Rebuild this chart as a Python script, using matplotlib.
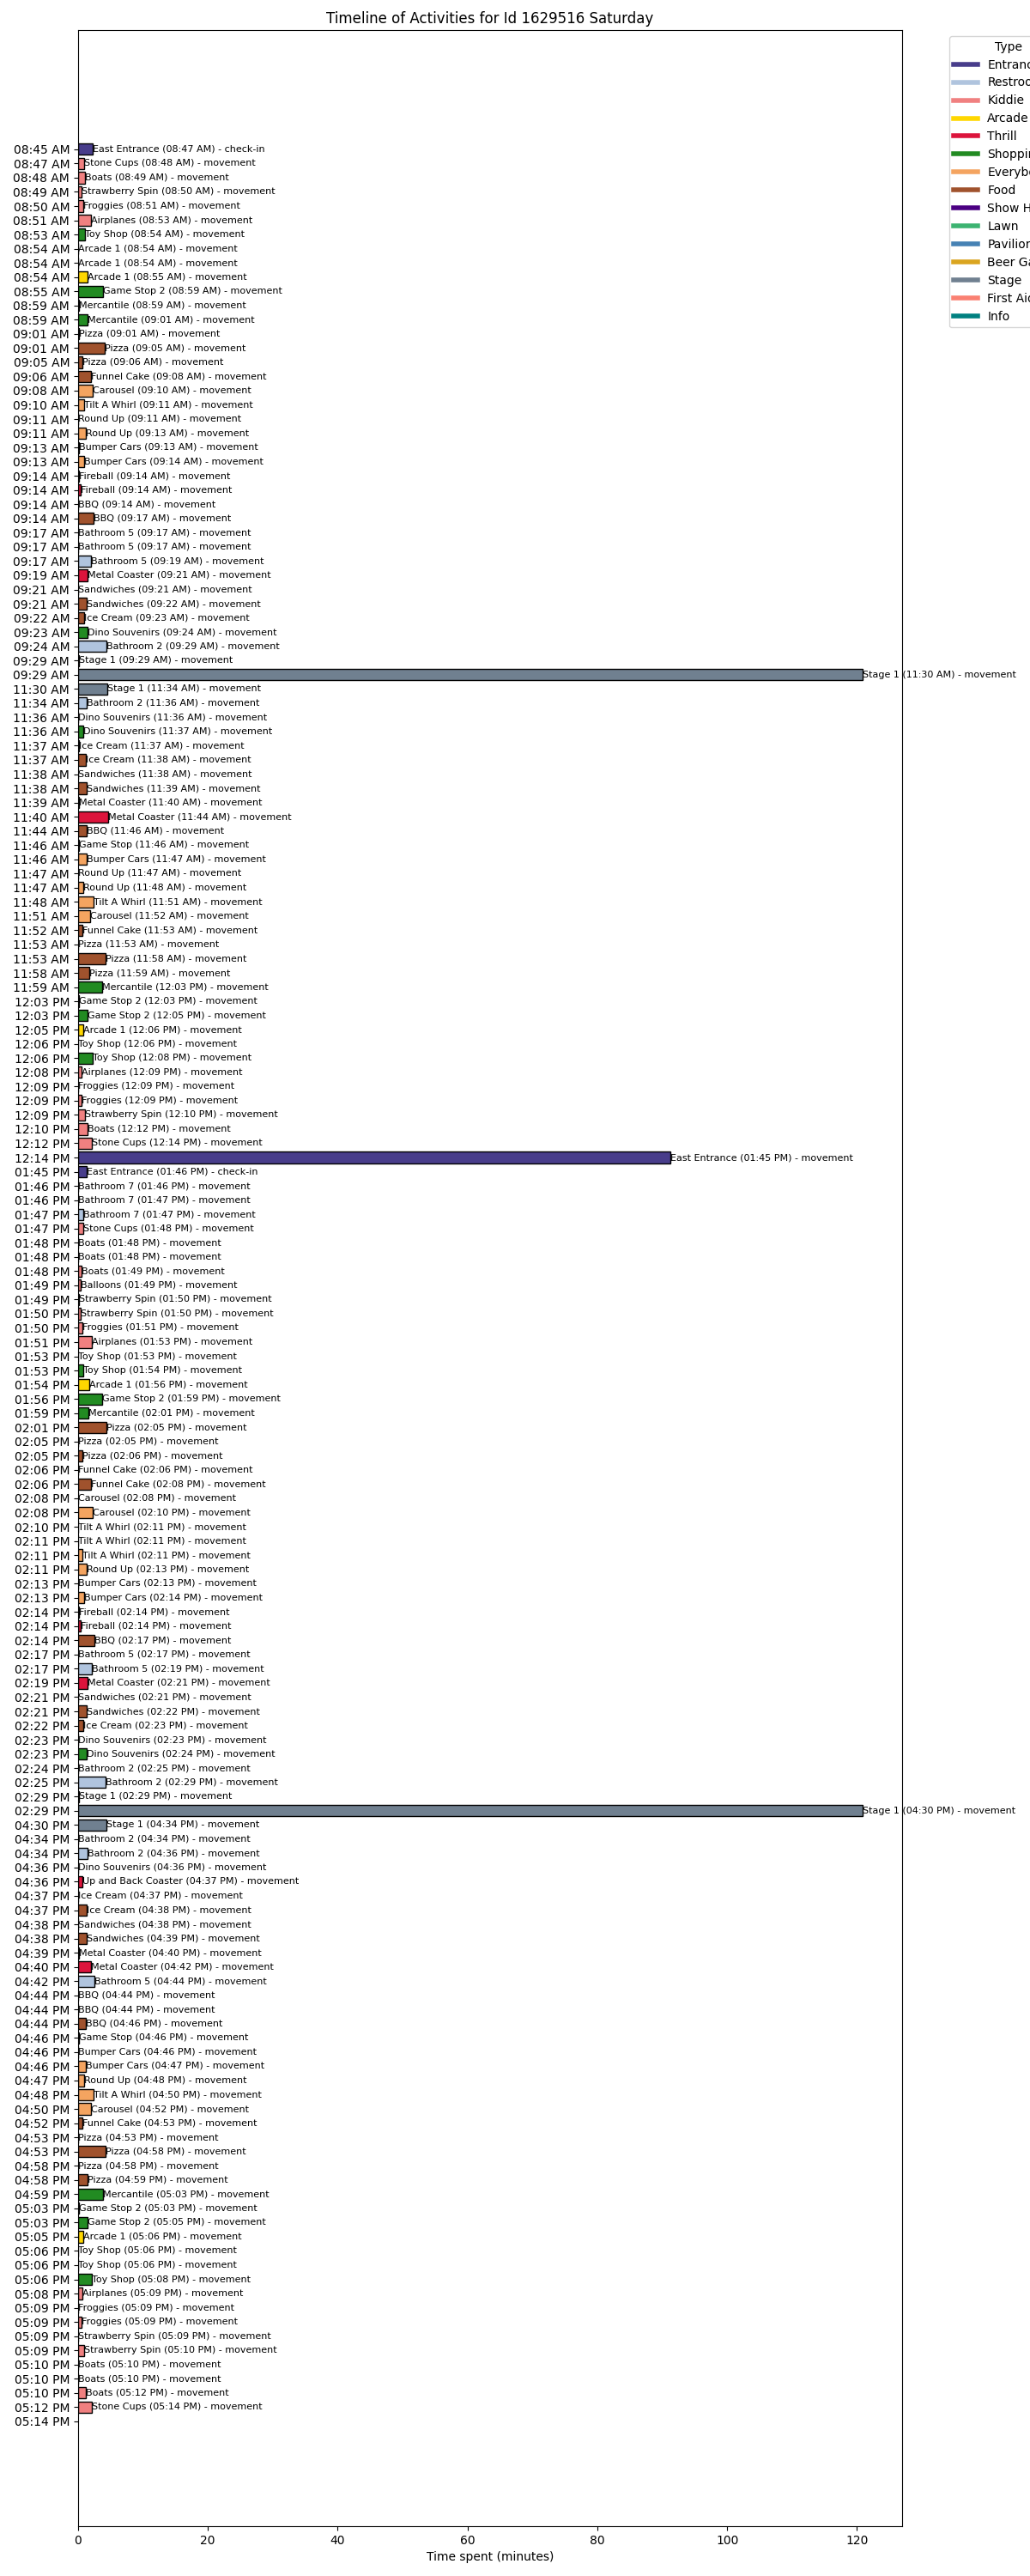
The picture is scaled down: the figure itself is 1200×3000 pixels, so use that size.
import matplotlib
matplotlib.use("Agg")
import matplotlib.pyplot as plt
from matplotlib.lines import Line2D

starts = [
    "08:45 AM", "08:47 AM", "08:48 AM", "08:49 AM", "08:50 AM", "08:51 AM", "08:53 AM", "08:54 AM", "08:54 AM", "08:54 AM",
    "08:55 AM", "08:59 AM", "08:59 AM", "09:01 AM", "09:01 AM", "09:05 AM", "09:06 AM", "09:08 AM", "09:10 AM", "09:11 AM",
    "09:11 AM", "09:13 AM", "09:13 AM", "09:14 AM", "09:14 AM", "09:14 AM", "09:14 AM", "09:17 AM", "09:17 AM", "09:17 AM",
    "09:19 AM", "09:21 AM", "09:21 AM", "09:22 AM", "09:23 AM", "09:24 AM", "09:29 AM", "09:29 AM", "11:30 AM", "11:34 AM",
    "11:36 AM", "11:36 AM", "11:37 AM", "11:37 AM", "11:38 AM", "11:38 AM", "11:39 AM", "11:40 AM", "11:44 AM", "11:46 AM",
    "11:46 AM", "11:47 AM", "11:47 AM", "11:48 AM", "11:51 AM", "11:52 AM", "11:53 AM", "11:53 AM", "11:58 AM", "11:59 AM",
    "12:03 PM", "12:03 PM", "12:05 PM", "12:06 PM", "12:06 PM", "12:08 PM", "12:09 PM", "12:09 PM", "12:09 PM", "12:10 PM",
    "12:12 PM", "12:14 PM", "01:45 PM", "01:46 PM", "01:46 PM", "01:47 PM", "01:47 PM", "01:48 PM", "01:48 PM", "01:48 PM",
    "01:49 PM", "01:49 PM", "01:50 PM", "01:50 PM", "01:51 PM", "01:53 PM", "01:53 PM", "01:54 PM", "01:56 PM", "01:59 PM",
    "02:01 PM", "02:05 PM", "02:05 PM", "02:06 PM", "02:06 PM", "02:08 PM", "02:08 PM", "02:10 PM", "02:11 PM", "02:11 PM",
    "02:11 PM", "02:13 PM", "02:13 PM", "02:14 PM", "02:14 PM", "02:14 PM", "02:17 PM", "02:17 PM", "02:19 PM", "02:21 PM",
    "02:21 PM", "02:22 PM", "02:23 PM", "02:23 PM", "02:24 PM", "02:25 PM", "02:29 PM", "02:29 PM", "04:30 PM", "04:34 PM",
    "04:34 PM", "04:36 PM", "04:36 PM", "04:37 PM", "04:37 PM", "04:38 PM", "04:38 PM", "04:39 PM", "04:40 PM", "04:42 PM",
    "04:44 PM", "04:44 PM", "04:44 PM", "04:46 PM", "04:46 PM", "04:46 PM", "04:47 PM", "04:48 PM", "04:50 PM", "04:52 PM",
    "04:53 PM", "04:53 PM", "04:58 PM", "04:58 PM", "04:59 PM", "05:03 PM", "05:03 PM", "05:05 PM", "05:06 PM", "05:06 PM",
    "05:06 PM", "05:08 PM", "05:09 PM", "05:09 PM", "05:09 PM", "05:09 PM", "05:10 PM", "05:10 PM", "05:10 PM", "05:12 PM",
]

names = [
    "East Entrance", "Stone Cups", "Boats", "Strawberry Spin", "Froggies", "Airplanes", "Toy Shop", "Arcade 1", "Arcade 1", "Arcade 1",
    "Game Stop 2", "Mercantile", "Mercantile", "Pizza", "Pizza", "Pizza", "Funnel Cake", "Carousel", "Tilt A Whirl", "Round Up",
    "Round Up", "Bumper Cars", "Bumper Cars", "Fireball", "Fireball", "BBQ", "BBQ", "Bathroom 5", "Bathroom 5", "Bathroom 5",
    "Metal Coaster", "Sandwiches", "Sandwiches", "Ice Cream", "Dino Souvenirs", "Bathroom 2", "Stage 1", "Stage 1", "Stage 1", "Bathroom 2",
    "Dino Souvenirs", "Dino Souvenirs", "Ice Cream", "Ice Cream", "Sandwiches", "Sandwiches", "Metal Coaster", "Metal Coaster", "BBQ", "Game Stop",
    "Bumper Cars", "Round Up", "Round Up", "Tilt A Whirl", "Carousel", "Funnel Cake", "Pizza", "Pizza", "Pizza", "Mercantile",
    "Game Stop 2", "Game Stop 2", "Arcade 1", "Toy Shop", "Toy Shop", "Airplanes", "Froggies", "Froggies", "Strawberry Spin", "Boats",
    "Stone Cups", "East Entrance", "East Entrance", "Bathroom 7", "Bathroom 7", "Bathroom 7", "Stone Cups", "Boats", "Boats", "Boats",
    "Balloons", "Strawberry Spin", "Strawberry Spin", "Froggies", "Airplanes", "Toy Shop", "Toy Shop", "Arcade 1", "Game Stop 2", "Mercantile",
    "Pizza", "Pizza", "Pizza", "Funnel Cake", "Funnel Cake", "Carousel", "Carousel", "Tilt A Whirl", "Tilt A Whirl", "Tilt A Whirl",
    "Round Up", "Bumper Cars", "Bumper Cars", "Fireball", "Fireball", "BBQ", "Bathroom 5", "Bathroom 5", "Metal Coaster", "Sandwiches",
    "Sandwiches", "Ice Cream", "Dino Souvenirs", "Dino Souvenirs", "Bathroom 2", "Bathroom 2", "Stage 1", "Stage 1", "Stage 1", "Bathroom 2",
    "Bathroom 2", "Dino Souvenirs", "Up and Back Coaster", "Ice Cream", "Ice Cream", "Sandwiches", "Sandwiches", "Metal Coaster", "Metal Coaster", "Bathroom 5",
    "BBQ", "BBQ", "BBQ", "Game Stop", "Bumper Cars", "Bumper Cars", "Round Up", "Tilt A Whirl", "Carousel", "Funnel Cake",
    "Pizza", "Pizza", "Pizza", "Pizza", "Mercantile", "Game Stop 2", "Game Stop 2", "Arcade 1", "Toy Shop", "Toy Shop",
    "Toy Shop", "Airplanes", "Froggies", "Froggies", "Strawberry Spin", "Strawberry Spin", "Boats", "Boats", "Boats", "Stone Cups",
]

ends = [
    "08:47 AM", "08:48 AM", "08:49 AM", "08:50 AM", "08:51 AM", "08:53 AM", "08:54 AM", "08:54 AM", "08:54 AM", "08:55 AM",
    "08:59 AM", "08:59 AM", "09:01 AM", "09:01 AM", "09:05 AM", "09:06 AM", "09:08 AM", "09:10 AM", "09:11 AM", "09:11 AM",
    "09:13 AM", "09:13 AM", "09:14 AM", "09:14 AM", "09:14 AM", "09:14 AM", "09:17 AM", "09:17 AM", "09:17 AM", "09:19 AM",
    "09:21 AM", "09:21 AM", "09:22 AM", "09:23 AM", "09:24 AM", "09:29 AM", "09:29 AM", "11:30 AM", "11:34 AM", "11:36 AM",
    "11:36 AM", "11:37 AM", "11:37 AM", "11:38 AM", "11:38 AM", "11:39 AM", "11:40 AM", "11:44 AM", "11:46 AM", "11:46 AM",
    "11:47 AM", "11:47 AM", "11:48 AM", "11:51 AM", "11:52 AM", "11:53 AM", "11:53 AM", "11:58 AM", "11:59 AM", "12:03 PM",
    "12:03 PM", "12:05 PM", "12:06 PM", "12:06 PM", "12:08 PM", "12:09 PM", "12:09 PM", "12:09 PM", "12:10 PM", "12:12 PM",
    "12:14 PM", "01:45 PM", "01:46 PM", "01:46 PM", "01:47 PM", "01:47 PM", "01:48 PM", "01:48 PM", "01:48 PM", "01:49 PM",
    "01:49 PM", "01:50 PM", "01:50 PM", "01:51 PM", "01:53 PM", "01:53 PM", "01:54 PM", "01:56 PM", "01:59 PM", "02:01 PM",
    "02:05 PM", "02:05 PM", "02:06 PM", "02:06 PM", "02:08 PM", "02:08 PM", "02:10 PM", "02:11 PM", "02:11 PM", "02:11 PM",
    "02:13 PM", "02:13 PM", "02:14 PM", "02:14 PM", "02:14 PM", "02:17 PM", "02:17 PM", "02:19 PM", "02:21 PM", "02:21 PM",
    "02:22 PM", "02:23 PM", "02:23 PM", "02:24 PM", "02:25 PM", "02:29 PM", "02:29 PM", "04:30 PM", "04:34 PM", "04:34 PM",
    "04:36 PM", "04:36 PM", "04:37 PM", "04:37 PM", "04:38 PM", "04:38 PM", "04:39 PM", "04:40 PM", "04:42 PM", "04:44 PM",
    "04:44 PM", "04:44 PM", "04:46 PM", "04:46 PM", "04:46 PM", "04:47 PM", "04:48 PM", "04:50 PM", "04:52 PM", "04:53 PM",
    "04:53 PM", "04:58 PM", "04:58 PM", "04:59 PM", "05:03 PM", "05:03 PM", "05:05 PM", "05:06 PM", "05:06 PM", "05:06 PM",
    "05:08 PM", "05:09 PM", "05:09 PM", "05:09 PM", "05:09 PM", "05:10 PM", "05:10 PM", "05:10 PM", "05:12 PM", "05:14 PM",
]

durations = [
    2.2, 0.9, 1.05, 0.5, 0.8, 2.0, 1.0, 0, 0, 1.45,
    3.85, 0.15, 1.45, 0.15, 4.1, 0.7, 2.0, 2.25, 0.95, 0,
    1.2, 0.15, 0.95, 0.15, 0.4, 0, 2.4, 0, 0, 2.0,
    1.45, 0, 1.3, 0.95, 1.45, 4.4, 0.15, 120.9, 4.5, 1.3,
    0, 0.8, 0.2, 1.2, 0, 1.3, 0.15, 4.65, 1.3, 0.15,
    1.3, 0, 0.8, 2.4, 1.85, 0.65, 0, 4.25, 1.7, 3.7,
    0.15, 1.45, 0.8, 0, 2.25, 0.5, 0, 0.5, 1.05, 1.45,
    2.1, 91.3, 1.3, 0, 0, 0.8, 0.8, 0, 0, 0.5,
    0.4, 0.15, 0.4, 0.65, 2.1, 0, 0.8, 1.7, 3.7, 1.6,
    4.4, 0, 0.65, 0, 2.0, 0, 2.25, 0, 0, 0.65,
    1.3, 0, 0.95, 0.15, 0.4, 2.5, 0, 2.1, 1.45, 0,
    1.3, 0.8, 0, 1.3, 0, 4.25, 0.15, 120.9, 4.4, 0,
    1.45, 0, 0.65, 0, 1.3, 0, 1.3, 0.15, 2.0, 2.5,
    0, 0, 1.2, 0.2, 0, 1.2, 0.95, 2.4, 2.0, 0.65,
    0, 4.25, 0, 1.45, 3.85, 0.15, 1.45, 0.8, 0, 0,
    2.1, 0.65, 0, 0.5, 0, 0.95, 0, 0, 1.2, 2.1,
]

activities = ["check-in"] + ["movement"] * 71 + ["check-in"] + ["movement"] * 87

place_types = {
    "East Entrance": "Entrance",
    "Bathroom 2": "Restrooms", "Bathroom 5": "Restrooms", "Bathroom 7": "Restrooms",
    "Stone Cups": "Kiddie", "Boats": "Kiddie", "Strawberry Spin": "Kiddie", "Froggies": "Kiddie",
    "Airplanes": "Kiddie", "Balloons": "Kiddie",
    "Arcade 1": "Arcade",
    "Fireball": "Thrill", "Metal Coaster": "Thrill", "Up and Back Coaster": "Thrill",
    "Toy Shop": "Shopping", "Game Stop 2": "Shopping", "Game Stop": "Shopping",
    "Mercantile": "Shopping", "Dino Souvenirs": "Shopping",
    "Carousel": "Everybody", "Tilt A Whirl": "Everybody", "Round Up": "Everybody", "Bumper Cars": "Everybody",
    "Pizza": "Food", "Funnel Cake": "Food", "BBQ": "Food", "Sandwiches": "Food", "Ice Cream": "Food",
    "Stage 1": "Stage",
}

type_names = ["Entrance", "Restrooms", "Kiddie", "Arcade", "Thrill", "Shopping", "Everybody", "Food",
              "Show Hall", "Lawn", "Pavilion", "Beer Garden", "Stage", "First Aid", "Info"]
type_colors = ["darkslateblue", "lightsteelblue", "lightcoral", "gold", "crimson", "forestgreen",
               "sandybrown", "sienna", "indigo", "mediumseagreen", "steelblue", "goldenrod",
               "slategray", "salmon", "teal"]
color_of = dict(zip(type_names, type_colors))

fig = plt.figure(figsize=(12, 30), dpi=100)
ax = fig.add_axes([0.0758, 0.0193, 0.8, 0.969])

ypos = list(range(len(durations)))
colors = [color_of[place_types[n]] for n in names]
ax.barh(ypos, durations, height=0.8, color=colors, edgecolor="black", linewidth=1)

for y, w, n, e, a in zip(ypos, durations, names, ends, activities):
    ax.text(w, y, f"{n} ({e}) - {a}", va="center", ha="left", fontsize=8)

tick_labels = starts + [ends[-1]]
ax.set_yticks(list(range(len(tick_labels))))
ax.set_yticklabels(tick_labels, fontsize=10)
ax.invert_yaxis()

ax.set_xlabel("Time spent (minutes)")
ax.set_title("Timeline of Activities for Id 1629516 Saturday")

handles = [Line2D([0], [0], color=c, lw=4) for c in type_colors]
ax.legend(handles, type_names, title="Type", loc="upper left", bbox_to_anchor=(1.05, 1))

fig.savefig("out.png", dpi=100)
